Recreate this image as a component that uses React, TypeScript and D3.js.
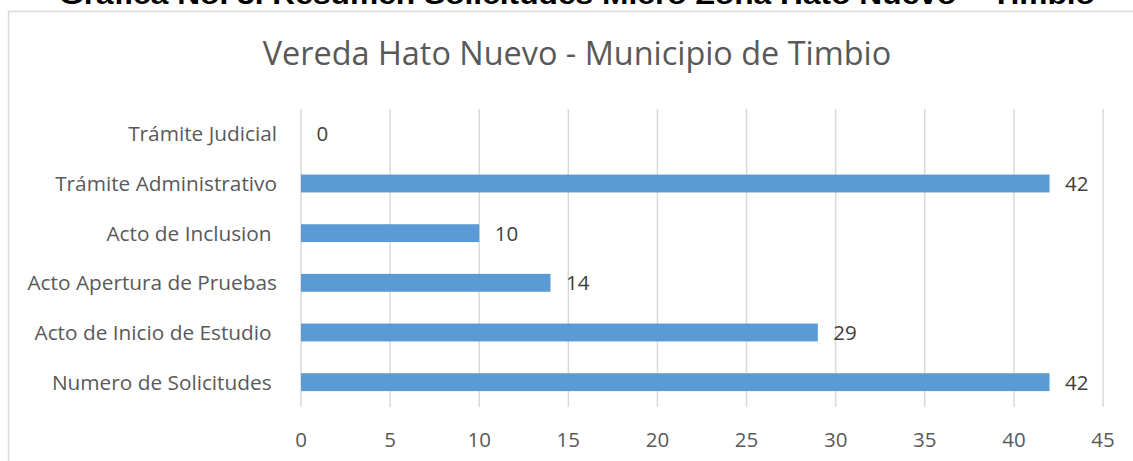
import React from "react";
import * as d3 from "d3";

const categories = [
  "Trámite Judicial",
  "Trámite Administrativo",
  "Acto de Inclusion ",
  "Acto Apertura de Pruebas",
  "Acto de Inicio de Estudio ",
  "Numero de Solicitudes ",
];
const values = [0, 42, 10, 14, 29, 42];
const xTicks = [0, 5, 10, 15, 20, 25, 30, 35, 40, 45];
const docTitle = "Gráfica No. 3. Resumen Solicitudes Micro Zona Hato Nuevo – Timbio";
const chartTitle = "Vereda Hato Nuevo - Municipio de Timbio";

const W = 1133;
const H = 461;

export default function App() {
  const x = d3.scaleLinear().domain([0, 45]).range([301, 1103]);
  const y = d3
    .scaleBand<string>()
    .domain(categories)
    .range([109, 407])
    .paddingInner(0.64)
    .paddingOuter(0.32);
  const font = "'Open Sans', sans-serif";
  return (
    <svg
      width={W}
      height={H}
      style={{ position: "absolute", left: 0, top: 0, background: "#fff" }}
    >
      <text
        x={577}
        y={4}
        textAnchor="middle"
        fontFamily="'Liberation Sans', Arial, sans-serif"
        fontWeight="bold"
        fontSize={27}
        textLength={1036}
        lengthAdjust="spacingAndGlyphs"
        fill="#000"
      >
        {docTitle}
      </text>
      <path d={`M8.5,${H + 5} V11.5 H${W + 5}`} fill="none" stroke="#d9d9d9" strokeWidth={1.5} />
      <text x={577} y={65} textAnchor="middle" fontFamily={font} fontSize={32.4} fill="#595959">
        {chartTitle}
      </text>
      {xTicks.map((t) => (
        <g key={t}>
          <line x1={x(t)} x2={x(t)} y1={109} y2={407} stroke="#d9d9d9" strokeWidth={1.5} />
          <text x={x(t)} y={446.5} textAnchor="middle" fontFamily={font} fontSize={20.5} fill="#595959">
            {t}
          </text>
        </g>
      ))}
      {categories.map((c, i) => {
        const cy = (y(c) as number) + y.bandwidth() / 2;
        return (
          <g key={c}>
            <rect x={x(0)} y={y(c)} width={x(values[i]) - x(0)} height={y.bandwidth()} fill="#5b9bd5" />
            <text
              x={277}
              y={cy + 7.5}
              textAnchor="end"
              fontFamily={font}
              fontSize={20.8}
              fill="#595959"
              style={{ whiteSpace: "pre" }}
            >
              {c}
            </text>
            <text x={x(values[i]) + 15.5} y={cy + 7.5} fontFamily={font} fontSize={20.5} fill="#404040">
              {values[i]}
            </text>
          </g>
        );
      })}
    </svg>
  );
}
